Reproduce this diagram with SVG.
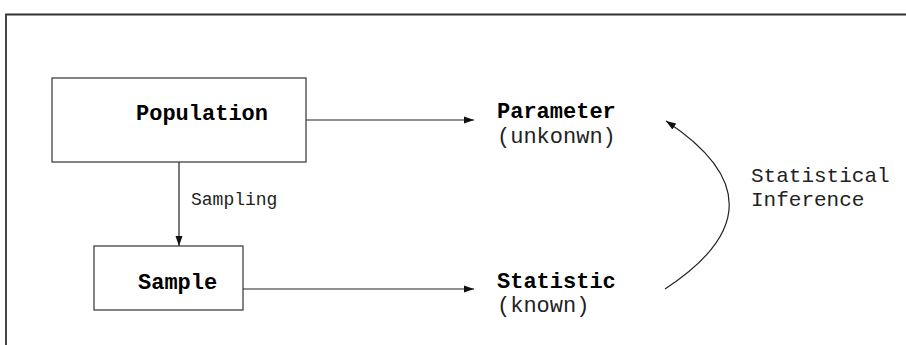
<svg xmlns="http://www.w3.org/2000/svg" width="906" height="345" viewBox="0 0 906 345">
  <style>
    .box { fill: #ffffff; stroke: #333333; stroke-width: 1.2; }
    .edge { fill: none; stroke: #222222; stroke-width: 1.2; }
    .title { font-family: "Liberation Mono", "Courier New", monospace; font-weight: bold; font-size: 22px; fill: #000000; }
    .plain { font-family: "Liberation Mono", "Courier New", monospace; font-size: 22px; fill: #222222; }
    .label { font-family: "Liberation Mono", "Courier New", monospace; font-size: 21px; fill: #222222; }
    .small { font-family: "Liberation Mono", "Courier New", monospace; font-size: 18px; fill: #222222; }
  </style>
  <defs>
    <marker id="arrow" viewBox="0 0 10 10" refX="10" refY="5" markerWidth="10" markerHeight="10" markerUnits="userSpaceOnUse" orient="auto">
      <path d="M0,1.5 L10,5 L0,8.5 Z" fill="#111111"/>
    </marker>
  </defs>
  <rect width="906" height="345" fill="#ffffff"/>

  <!-- frame -->
  <path d="M6,345 V14.5 H906" fill="none" stroke="#333333" stroke-width="1.8"/>

  <g id="connectors">
    <line class="edge" x1="306" y1="120" x2="474" y2="120" marker-end="url(#arrow)"/>
    <line class="edge" x1="179" y1="162" x2="179" y2="246" marker-end="url(#arrow)"/>
    <line class="edge" x1="243" y1="289" x2="474" y2="289" marker-end="url(#arrow)"/>
    <path class="edge" d="M665,289 Q793,205 666,121" marker-end="url(#arrow)"/>
    <text class="small" x="191" y="205">Sampling</text>
    <text class="label" x="751" y="182">Statistical</text>
    <text class="label" x="751" y="206">Inference</text>
  </g>

  <g id="population">
    <rect class="box" x="52" y="78" width="254" height="84"/>
    <text class="title" x="136" y="120">Population</text>
  </g>

  <g id="sample">
    <rect class="box" x="94" y="246" width="149" height="64"/>
    <text class="title" x="138" y="289">Sample</text>
  </g>

  <g id="parameter">
    <text class="title" x="497" y="118">Parameter</text>
    <text class="plain" x="497" y="143">(unkonwn)</text>
  </g>

  <g id="statistic">
    <text class="title" x="497" y="288">Statistic</text>
    <text class="plain" x="497" y="312">(known)</text>
  </g>
</svg>
